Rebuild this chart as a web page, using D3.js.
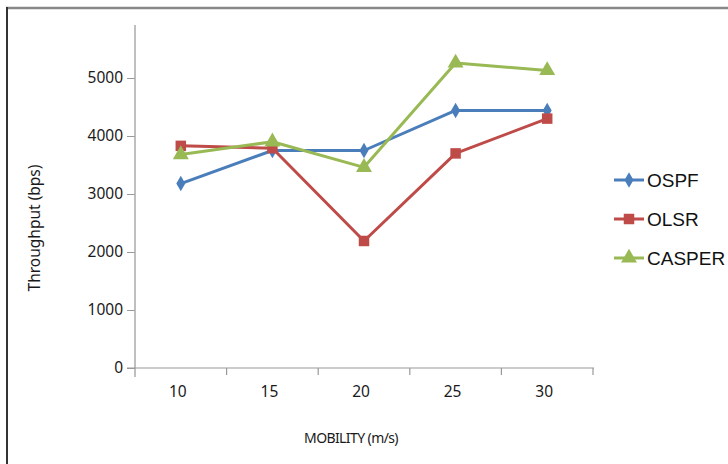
<!DOCTYPE html>
<html>
<head>
<meta charset="utf-8">
<script src="https://cdn.jsdelivr.net/npm/d3@7"></script>
<style>
  body { margin: 0; background: #fff; }
  svg { display: block; }
</style>
</head>
<body>
<svg id="chart" width="728" height="464"></svg>
<script>
// chart data
const mobility = ["10", "15", "20", "25", "30"];
const ospf = [3180, 3750, 3750, 4440, 4440];
const olsr = [3830, 3790, 2190, 3700, 4300];
const casper = [3680, 3900, 3460, 5260, 5130];
const yTicks = [0, 1000, 2000, 3000, 4000, 5000];

const seriesList = [
    { name: "OSPF", values: ospf, color: "#4a7ebb", shape: d3.symbolDiamond, size: 70 },
    { name: "OLSR", values: olsr, color: "#be4b48", shape: d3.symbolSquare, size: 110 },
    { name: "CASPER", values: casper, color: "#98b954", shape: d3.symbolTriangle, size: 110 }
];

const svg = d3.select("#chart");
const font = "'Noto Sans', 'Open Sans', 'DejaVu Sans', sans-serif";

// outer frame (top + left edges only are visible)
svg.append("line").attr("x1", 6).attr("x2", 728).attr("y1", 8).attr("y2", 8)
    .attr("stroke", "#888").attr("stroke-width", 2.5);
svg.append("line").attr("x1", 7).attr("x2", 7).attr("y1", 7).attr("y2", 464)
    .attr("stroke", "#333").attr("stroke-width", 2);

const plotLeft = 135, plotRight = 593, plotTop = 25, plotBottom = 368;

const x = d3.scaleBand().domain(mobility).range([plotLeft, plotRight]);
const y = d3.scaleLinear().domain([0, 5000]).range([plotBottom, 78]);

// y axis
const yAxis = svg.append("g")
    .attr("transform", `translate(${plotLeft},0)`)
    .call(d3.axisLeft(y).tickValues(yTicks).tickSize(8).tickPadding(4).tickFormat(d3.format("d")));
yAxis.select(".domain").remove();
yAxis.selectAll(".tick line").attr("stroke", "#999");
yAxis.selectAll("text").attr("font-family", font).attr("font-size", 15.5)
    .attr("fill", "#1a1a1a");
svg.append("line").attr("x1", plotLeft).attr("x2", plotLeft).attr("y1", plotTop).attr("y2", plotBottom + 9)
    .attr("stroke", "#aaa").attr("stroke-width", 1.5);

// x axis
const xAxis = svg.append("g")
    .attr("transform", `translate(-3,${plotBottom})`)
    .call(d3.axisBottom(x).tickSize(0).tickPadding(18));
xAxis.select(".domain").remove();
xAxis.selectAll("text").attr("font-family", font).attr("font-size", 15.5)
    .attr("fill", "#1a1a1a");
svg.append("line").attr("x1", plotLeft - 8).attr("x2", plotRight + 1).attr("y1", plotBottom).attr("y2", plotBottom)
    .attr("stroke", "#999").attr("stroke-width", 1.2);
svg.append("g").selectAll("line")
    .data(mobility.slice(1).concat(["end"]))
    .join("line")
    .attr("x1", d => d === "end" ? plotRight : x(d))
    .attr("x2", d => d === "end" ? plotRight : x(d))
    .attr("y1", plotBottom).attr("y2", plotBottom + 7)
    .attr("stroke", "#999").attr("stroke-width", 1.2);

// axis titles
svg.append("text")
    .attr("transform", "translate(40,228) rotate(-90)")
    .attr("text-anchor", "middle")
    .attr("font-family", font).attr("font-size", 15.5).attr("fill", "#1a1a1a")
    .text("Throughput (bps)");
svg.append("text")
    .attr("x", 351).attr("y", 443)
    .attr("text-anchor", "middle")
    .attr("font-family", font).attr("font-size", 14).attr("fill", "#1a1a1a")
    .attr("letter-spacing", -0.6)
    .text("MOBILITY (m/s)");

// lines and markers
const line = d3.line()
    .x((d, i) => x(mobility[i]) + x.bandwidth() / 2)
    .y(d => y(d));

seriesList.forEach(s => {
    svg.append("path")
        .datum(s.values)
        .attr("fill", "none")
        .attr("stroke", s.color)
        .attr("stroke-width", 3)
        .attr("stroke-linejoin", "round")
        .attr("d", line);
    svg.append("g").selectAll("path")
        .data(s.values)
        .join("path")
        .attr("transform", (d, i) => `translate(${x(mobility[i]) + x.bandwidth() / 2},${y(d)})`)
        .attr("d", d3.symbol().type(s.shape).size(s.size))
        .attr("fill", s.color);
});

// legend
const legend = svg.append("g").attr("transform", "translate(614,180)");
seriesList.forEach((s, i) => {
    const g = legend.append("g").attr("transform", `translate(0,${i * 39})`);
    g.append("line").attr("x1", 0).attr("x2", 30).attr("y1", 0).attr("y2", 0)
        .attr("stroke", s.color).attr("stroke-width", 3);
    g.append("path").attr("transform", "translate(15,0)")
        .attr("d", d3.symbol().type(s.shape).size(s.size)).attr("fill", s.color);
    g.append("text").attr("x", 33).attr("y", 7)
        .attr("font-family", "'Liberation Sans', 'DejaVu Sans', sans-serif")
        .attr("font-size", 19).attr("fill", "#111")
        .text(s.name);
});
</script>
</body>
</html>
